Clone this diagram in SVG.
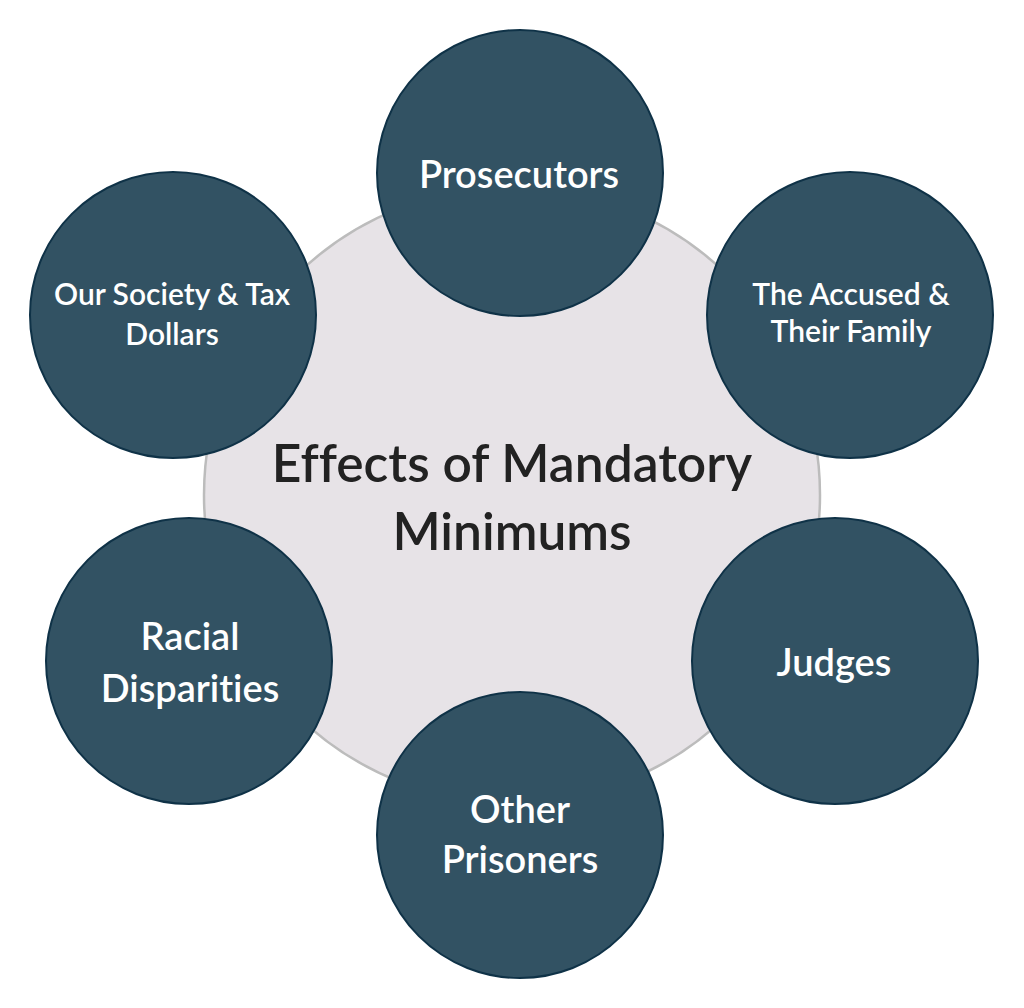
<svg xmlns="http://www.w3.org/2000/svg" width="1024" height="1008" viewBox="0 0 1024 1008">
<style>
.hub{fill:#e7e3e7;stroke:#bcbcbc;stroke-width:2.5}
.node{fill:#325263;stroke:#0f3247;stroke-width:2}
.lbl{font-family:Lato,"Liberation Sans",sans-serif;fill:#ffffff;text-anchor:middle;font-weight:600;font-variant-ligatures:none}
.title{font-family:Lato,"Liberation Sans",sans-serif;fill:#222222;text-anchor:middle;font-size:51.5px;font-weight:600;font-variant-ligatures:none}
</style>
<rect width="1024" height="1008" fill="#ffffff"/>
<g id="center">
<circle class="hub" cx="512" cy="495" r="308"/>
<text class="title" x="512" y="482">Effects of Mandatory</text>
<text class="title" x="512" y="550">Minimums</text>
</g>
<g id="connectors"></g>
<g id="prosecutors">
<circle class="node" cx="520" cy="173" r="143"/>
<text class="lbl" x="519" y="188" font-size="38">Prosecutors</text>
</g>
<g id="accused">
<circle class="node" cx="850" cy="315" r="143"/>
<text class="lbl" x="851" y="305" font-size="30">The Accused &amp;</text>
<text class="lbl" x="851" y="342" font-size="30">Their Family</text>
</g>
<g id="judges">
<circle class="node" cx="835" cy="661" r="143"/>
<text class="lbl" x="834" y="676" font-size="38">Judges</text>
</g>
<g id="prisoners">
<circle class="node" cx="520" cy="835" r="143"/>
<text class="lbl" x="520" y="823" font-size="38">Other</text>
<text class="lbl" x="520" y="873" font-size="38">Prisoners</text>
</g>
<g id="racial">
<circle class="node" cx="189" cy="661" r="143"/>
<text class="lbl" x="190" y="650" font-size="38">Racial</text>
<text class="lbl" x="190" y="702" font-size="38">Disparities</text>
</g>
<g id="society">
<circle class="node" cx="173" cy="315" r="143"/>
<text class="lbl" x="172" y="305" font-size="30">Our Society &amp; Tax</text>
<text class="lbl" x="172" y="345" font-size="30">Dollars</text>
</g>
</svg>
